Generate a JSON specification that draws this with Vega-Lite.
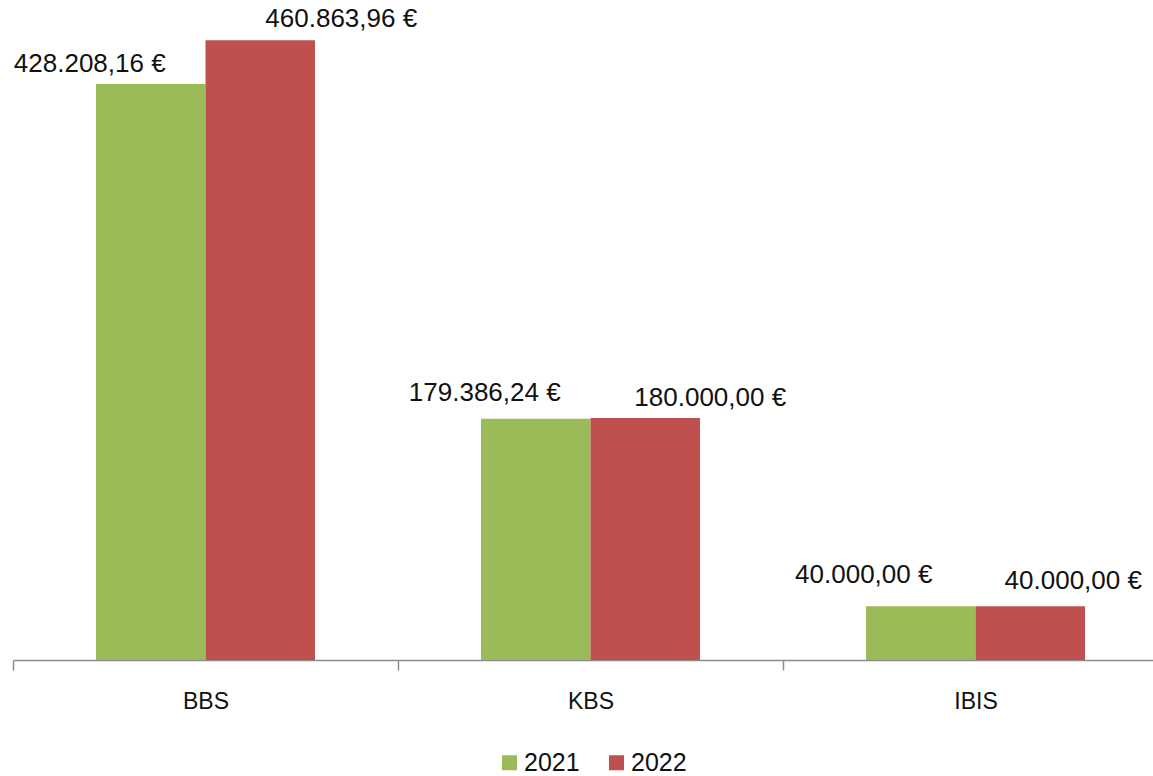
{
  "$schema": "https://vega.github.io/schema/vega-lite/v6.json",
  "width": 1155,
  "height": 660,
  "padding": {"left": 12, "top": 0, "right": 0, "bottom": 0},
  "background": "white",
  "data": {
    "values": [
      {"cat": "BBS", "year": "2021", "value": 428208.16},
      {"cat": "BBS", "year": "2022", "value": 460863.96},
      {"cat": "KBS", "year": "2021", "value": 179386.24},
      {"cat": "KBS", "year": "2022", "value": 180000.00},
      {"cat": "IBIS", "year": "2021", "value": 40000.00},
      {"cat": "IBIS", "year": "2022", "value": 40000.00}
    ]
  },
  "encoding": {
    "x": {
      "field": "cat", "type": "nominal", "sort": ["BBS", "KBS", "IBIS"],
      "scale": {"paddingInner": 0, "paddingOuter": 0},
      "axis": {
        "title": null, "labelAngle": 0, "tickBand": "extent",
        "domainColor": "#8c8c8c", "domainWidth": 1.5, "tickColor": "#8c8c8c", "tickWidth": 1.5, "tickSize": 10,
        "labelFont": "Liberation Sans", "labelFontSize": 23, "labelColor": "#111111", "labelPadding": 20
      }
    },
    "xOffset": {"field": "year", "type": "nominal", "scale": {"paddingInner": 0, "paddingOuter": 0.758}},
    "y": {"field": "value", "type": "quantitative", "scale": {"domain": [0, 490700], "nice": false, "zero": true}, "axis": null}
  },
  "layer": [
    {
      "mark": {"type": "bar", "cornerRadius": 0},
      "encoding": {
        "color": {
          "field": "year", "type": "nominal",
          "scale": {"domain": ["2021", "2022"], "range": ["#9BBB59", "#C0504D"]},
          "legend": {
            "title": null, "orient": "none", "legendX": 484, "legendY": 750, "direction": "horizontal",
            "symbolType": "square", "symbolSize": 225, "symbolStrokeWidth": 0,
            "labelFont": "Liberation Sans", "labelFontSize": 25, "labelColor": "#111111",
            "labelOffset": 2, "columnPadding": 24
          }
        }
      }
    },
    {"transform": [{"filter": "datum.cat == 'BBS' && datum.year == '2021'"}],
     "mark": {"type": "text", "font": "Liberation Sans", "fontSize": 26, "color": "#111111", "baseline": "middle", "dx": -61, "dy": -20},
     "encoding": {"text": {"field": "value", "type": "quantitative", "format": "$,.2f"}}},
    {"transform": [{"filter": "datum.cat == 'BBS' && datum.year == '2022'"}],
     "mark": {"type": "text", "font": "Liberation Sans", "fontSize": 26, "color": "#111111", "baseline": "middle", "dx": 81, "dy": -21},
     "encoding": {"text": {"field": "value", "type": "quantitative", "format": "$,.2f"}}},
    {"transform": [{"filter": "datum.cat == 'KBS' && datum.year == '2021'"}],
     "mark": {"type": "text", "font": "Liberation Sans", "fontSize": 26, "color": "#111111", "baseline": "middle", "dx": -51, "dy": -26},
     "encoding": {"text": {"field": "value", "type": "quantitative", "format": "$,.2f"}}},
    {"transform": [{"filter": "datum.cat == 'KBS' && datum.year == '2022'"}],
     "mark": {"type": "text", "font": "Liberation Sans", "fontSize": 26, "color": "#111111", "baseline": "middle", "dx": 65, "dy": -20},
     "encoding": {"text": {"field": "value", "type": "quantitative", "format": "$,.2f"}}},
    {"transform": [{"filter": "datum.cat == 'IBIS' && datum.year == '2021'"}],
     "mark": {"type": "text", "font": "Liberation Sans", "fontSize": 26, "color": "#111111", "baseline": "middle", "dx": -57, "dy": -31},
     "encoding": {"text": {"field": "value", "type": "quantitative", "format": "$,.2f"}}},
    {"transform": [{"filter": "datum.cat == 'IBIS' && datum.year == '2022'"}],
     "mark": {"type": "text", "font": "Liberation Sans", "fontSize": 26, "color": "#111111", "baseline": "middle", "dx": 43, "dy": -25},
     "encoding": {"text": {"field": "value", "type": "quantitative", "format": "$,.2f"}}}
  ],
  "config": {
    "view": {"stroke": null},
    "locale": {
      "number": {"decimal": ",", "thousands": ".", "grouping": [3], "currency": ["", " €"]}
    }
  }
}
